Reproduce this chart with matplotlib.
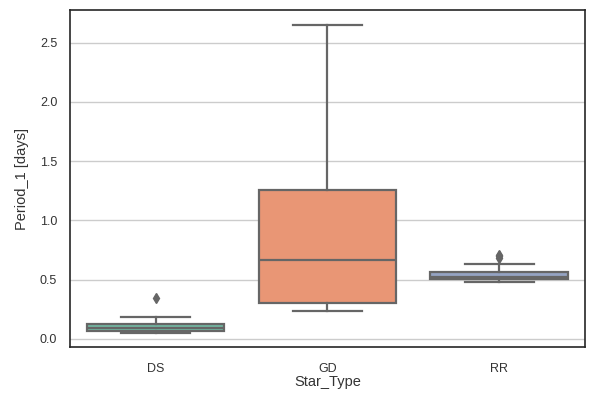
import matplotlib
matplotlib.use("Agg")
import matplotlib.pyplot as plt
import matplotlib.colors as mcolors
import colorsys

categories = ["DS", "GD", "RR"]
whislo = [0.05, 0.24, 0.48]
q1 = [0.07, 0.30, 0.505]
med = [0.09, 0.67, 0.525]
q3 = [0.125, 1.26, 0.565]
whishi = [0.185, 2.65, 0.635]
fliers = [[0.35], [], [0.68, 0.70, 0.71]]
palette = ["#66c2a5", "#fc8d62", "#8da0cb"]


def desat(c, p=0.75):
    r, g, b = mcolors.to_rgb(c)
    h, l, s = colorsys.rgb_to_hls(r, g, b)
    return colorsys.hls_to_rgb(h, l, s * p)


plt.rcParams["font.family"] = ["Liberation Sans", "DejaVu Sans"]
fig, ax = plt.subplots(figsize=(5.91, 3.96), dpi=100)
fig.subplots_adjust(left=0.118, right=0.99, top=0.975, bottom=0.123)

stats = []
for i, c in enumerate(categories):
    stats.append(dict(label=c, whislo=whislo[i], q1=q1[i], med=med[i],
                      q3=q3[i], whishi=whishi[i], fliers=fliers[i]))

gray = "#666666"
bp = ax.bxp(stats, positions=range(len(categories)), widths=0.8,
            patch_artist=True,
            boxprops=dict(edgecolor=gray, linewidth=1.6),
            medianprops=dict(color=gray, linewidth=1.6),
            whiskerprops=dict(color=gray, linewidth=1.6),
            capprops=dict(color=gray, linewidth=1.6),
            flierprops=dict(marker="d", markerfacecolor=gray,
                            markeredgecolor=gray, markersize=5),
            capwidths=0.4)
for patch, col in zip(bp["boxes"], palette):
    patch.set_facecolor(desat(col))

ax.set_xlim(-0.5, 2.5)
ax.set_ylim(-0.07, 2.776)
ax.set_yticks([0.0, 0.5, 1.0, 1.5, 2.0, 2.5])
ax.set_xticks(range(len(categories)))
ax.set_xticklabels(categories)
ax.yaxis.grid(True, color="#cccccc", linewidth=1)
ax.set_axisbelow(True)
for s in ax.spines.values():
    s.set_color("#262626")
    s.set_linewidth(1.2)
ax.tick_params(axis="both", length=0, labelsize=9, colors="#333333")
ax.tick_params(axis="x", pad=11)
ax.tick_params(axis="y", pad=9)
ax.set_xlabel("Star_Type", fontsize=10.5, color="#333333", labelpad=0)
ax.set_ylabel("Period_1 [days]", fontsize=10.5, color="#333333", labelpad=8)

fig.savefig("out.png", dpi=100)
